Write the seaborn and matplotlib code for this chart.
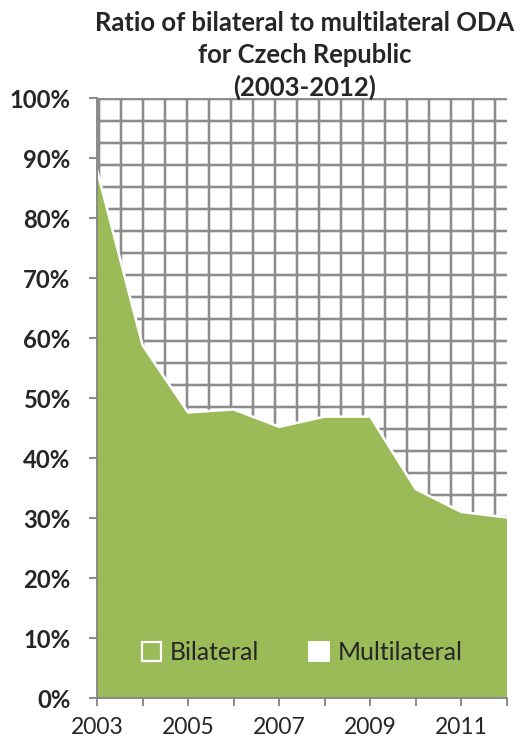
import matplotlib
matplotlib.use("Agg")
import matplotlib.pyplot as plt
import seaborn as sns
import numpy as np
from matplotlib.patches import Patch

years = [2003, 2004, 2005, 2006, 2007, 2008, 2009, 2010, 2011, 2012]
bilateral = [88.0, 58.8, 47.6, 48.1, 45.2, 46.9, 46.9, 34.8, 31.0, 30.1]
multilateral = [100 - b for b in bilateral]
ytick_labels = ["0%", "10%", "20%", "30%", "40%", "50%", "60%", "70%", "80%", "90%", "100%"]
xtick_labels = ["2003", "2005", "2007", "2009", "2011"]

sns.set_style("white")
plt.rcParams['font.family'] = ['Lato', 'DejaVu Sans']
plt.rcParams['hatch.color'] = '#8c8c8c'
plt.rcParams['hatch.linewidth'] = 1.4

DPI = 132
fig = plt.figure(figsize=(516 / DPI, 749 / DPI), dpi=DPI)
ax = fig.add_axes([97 / 516, (749 - 698) / 749, 410 / 516, 600 / 749])

x = np.array(years)
b = np.array(bilateral)
m = np.array(multilateral)
top = b + m

ax.fill_between(x, b, top, facecolor='white', edgecolor='#8c8c8c', hatch='+', linewidth=0)
ax.fill_between(x, 0, b, facecolor='#9BBB59', edgecolor='none', linewidth=0)
sns.lineplot(x=x, y=b, ax=ax, color='white', linewidth=1.4)

ax.set_xlim(2003, 2012)
ax.set_ylim(0, 100)
ax.set_yticks(np.arange(0, 101, 10))
ax.set_yticklabels(ytick_labels, fontsize=13, fontweight='bold')
ax.set_xticks(years)
ax.set_xticklabels([str(y) if str(y) in xtick_labels else "" for y in years], fontsize=12.5)
ax.tick_params(axis='y', direction='out', length=4.5, color='#868686', width=1, pad=10, left=True)
ax.tick_params(axis='x', direction='out', length=4.5, color='#868686', width=1, pad=6, bottom=True)

for s in ['top', 'right']:
    ax.spines[s].set_visible(False)
for s in ['left', 'bottom']:
    ax.spines[s].set_color('#868686')
    ax.spines[s].set_linewidth(1)

handles = [Patch(facecolor='#9BBB59', edgecolor='white', linewidth=1.2, label='Bilateral'),
           Patch(facecolor='white', edgecolor='white', label='Multilateral')]
ax.legend(handles=handles, loc='lower center', bbox_to_anchor=(0.5, 0.02), ncol=2,
          frameon=False, fontsize=13.5, handlelength=0.8, handleheight=0.8,
          handletextpad=0.35, columnspacing=2.0)

fig.text(305 / 516, 1 - 11 / 749, "Ratio of bilateral to multilateral ODA\nfor Czech Republic\n(2003-2012)",
         ha='center', va='top', fontsize=14, fontweight='bold', linespacing=1.38)

fig.savefig("out.png", dpi=DPI)
